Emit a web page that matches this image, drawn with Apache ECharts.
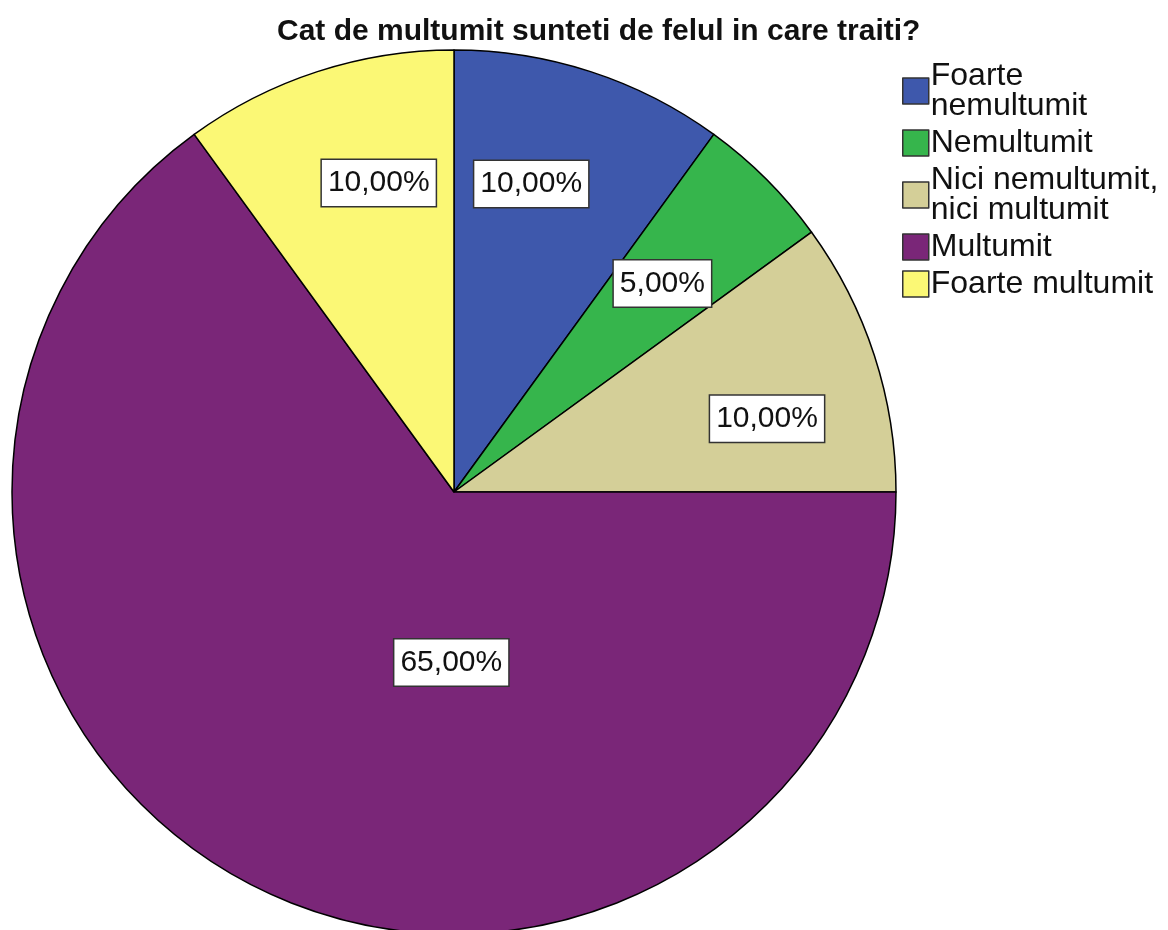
<!DOCTYPE html>
<html>
<head>
<meta charset="utf-8">
<script src="https://cdn.jsdelivr.net/npm/echarts@6/dist/echarts.min.js"></script>
<style>
  html, body { margin: 0; padding: 0; background: #fff; }
  #satisfactie { width: 1168px; height: 930px; }
</style>
</head>
<body>
<div id="satisfactie"></div>
<script>
// date din grafic (procente)
const categorii = ['Foarte\nnemultumit', 'Nemultumit', 'Nici nemultumit,\nnici multumit', 'Multumit', 'Foarte multumit'];
const procente = [10, 5, 10, 65, 10];
const culori = ['#3e58ac', '#36b54c', '#d4cf98', '#7a2678', '#fbf875'];
// deplasarea etichetelor fata de pozitia 'inside'
const deplasari = [[8, -95], [50, -50], [100, -4], [99, -29], [-6, -96]];

const myChart = echarts.init(document.getElementById('satisfactie'));
myChart.setOption({
  animation: false,
  title: {
    text: 'Cat de multumit sunteti de felul in care traiti?',
    left: 272,
    top: 12,
    textStyle: {
      fontFamily: 'Liberation Sans, Arial, sans-serif',
      fontSize: 30,
      fontWeight: 'bold',
      color: '#111'
    }
  },
  legend: {
    orient: 'vertical',
    left: 897,
    top: 55,
    icon: 'rect',
    itemWidth: 26,
    itemHeight: 26,
    itemGap: 5,
    selectedMode: false,
    itemStyle: { borderColor: '#333', borderWidth: 1.5 },
    textStyle: {
      fontFamily: 'Liberation Sans, Arial, sans-serif',
      fontSize: 32,
      lineHeight: 30,
      color: '#111',
      padding: [0, 0, 0, -3]
    },
    data: categorii
  },
  series: [
    {
      type: 'pie',
      center: [454, 492],
      radius: 442,
      startAngle: 90,
      clockwise: true,
      avoidLabelOverlap: false,
      itemStyle: { borderColor: '#000', borderWidth: 1.5 },
      emphasis: { disabled: true },
      labelLine: { show: false },
      label: {
        show: true,
        position: 'inside',
        fontFamily: 'Liberation Sans, Arial, sans-serif',
        fontSize: 30,
        lineHeight: 34,
        color: '#111',
        backgroundColor: '#fff',
        borderColor: '#333',
        borderWidth: 1.5,
        padding: [6, 6],
        formatter: p => p.value.toFixed(2).replace('.', ',') + '%'
      },
      data: categorii.map((c, i) => ({
        name: c,
        value: procente[i],
        itemStyle: { color: culori[i] },
        label: { offset: deplasari[i] }
      }))
    }
  ]
});
</script>
</body>
</html>
